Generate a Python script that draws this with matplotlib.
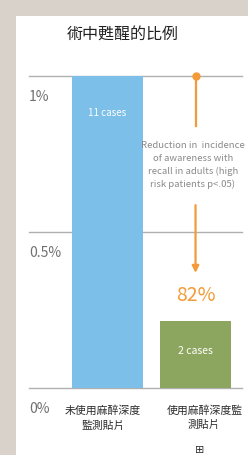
import matplotlib.pyplot as plt
from matplotlib.patches import Rectangle

plt.rcParams['font.family'] = ['Liberation Sans Narrow', 'Noto Sans CJK TC', 'DejaVu Sans']

# data
categories = ['未使用麻醉深度\n監測貼片', '使用麻醉深度監\n測貼片']
values = [1.0, 0.215]
case_labels = ['11 cases', '2 cases']
colors = ['#7cc0ea', '#8da65f']
yticks = [0, 0.5, 1.0]
ytick_labels = ['0%', '0.5%', '1%']
title = '術中甦醒的比例'
note = 'Reduction in  incidence\nof awareness with\nrecall in adults (high\nrisk patients p<.05)'
reduction = '82%'

W, H = 248, 455
fig = plt.figure(figsize=(W / 100, H / 100), dpi=100)
fig.patch.set_facecolor('#d8d2ca')
fig.patches.append(Rectangle((16 / W, 0), 1, 1 - 16 / H, transform=fig.transFigure,
                             facecolor='white', edgecolor='none', zorder=-5))

ax = fig.add_axes([29 / W, 1 - 388 / H, 213 / W, 312 / H])
ax.set_zorder(2)
ax.set_facecolor('none')
ax.set_xlim(-0.892, 1.528)
ax.set_ylim(0, 1.0)
for s in ax.spines.values():
    s.set_visible(False)
ax.set_xticks([])
ax.set_yticks([])

for t in yticks:
    ax.axhline(t, color='#b0b0b0', lw=1, zorder=1, clip_on=False)
for t, lab in zip(yticks, ytick_labels):
    ax.text(-0.892, t - 0.045, lab, ha='left', va='top', fontsize=10, color='#707070')

x = range(len(values))
bars = ax.bar(x, values, width=0.81, color=colors, zorder=2)
ax.text(0, 0.88, case_labels[0], ha='center', va='center', color='white', fontsize=7)
ax.text(1, 0.12, case_labels[1], ha='center', va='center', color='white', fontsize=7.5)

for i, c in enumerate(categories):
    ax.text(i - 0.05 if i == 0 else i + 0.1, -0.055, c, ha='center', va='top', fontsize=7.8,
            color='#2a2a2a', linespacing=1.5)

# orange annotation
orange = '#f29b38'
ax.plot([1], [1.0], 'o', color=orange, ms=5, zorder=4, clip_on=False)
ax.plot([1, 1], [1.0, 0.84], color=orange, lw=1.6, zorder=3)
ax.text(0.97, 0.715, note, ha='center', va='center', fontsize=6.9, color='#8a8a8a',
        linespacing=1.5)
ax.annotate('', xy=(1, 0.36), xytext=(1, 0.595),
            arrowprops=dict(arrowstyle='-|>', color=orange, lw=1.6, mutation_scale=10))
ax.text(1, 0.298, reduction, ha='center', va='center', fontsize=14, color=orange)

fig.text(123 / W, 1 - 34 / H, title, ha='center', va='center', fontsize=11.5, color='#222222')
fig.text(200 / W, 1 - 450 / H, '⊞', ha='center', va='center', fontsize=8, color='#333333')

fig.savefig('out.png', dpi=100)
